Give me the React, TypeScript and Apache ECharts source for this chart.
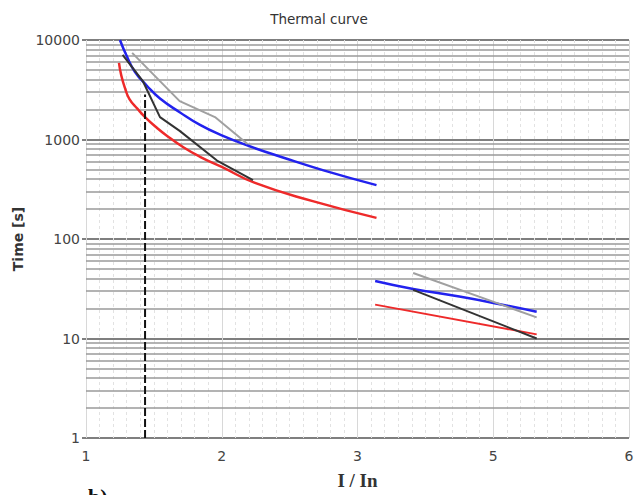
import React, { useEffect, useRef } from "react";
import * as echarts from "echarts";

// Axis tick labels (x axis shows 1,2,3,5,6 at equal spacing)
const xTickValues = [1, 2, 3, 4, 5];
const xTickLabels = ["1", "2", "3", "5", "6"];
const yMinorGrid = [2, 3, 4, 5, 6, 7, 8, 9, 20, 30, 40, 50, 60, 70, 80, 90, 200, 300, 400, 500, 600, 700, 800, 900, 2000, 3000, 4000, 5000, 6000, 7000, 8000, 9000];

// Left group (low overload)
const blueX = [1.25, 1.3, 1.36, 1.45, 1.545, 1.69, 1.84, 2.0, 2.2, 2.45, 2.75, 3.14];
const blueY = [10000, 6900, 4800, 3450, 2580, 1880, 1400, 1100, 860, 660, 490, 348];
const redX = [1.243, 1.26, 1.29, 1.32, 1.38, 1.435, 1.52, 1.6, 1.72, 1.84, 2.0, 2.245, 2.67, 3.14];
const redY = [5900, 4400, 3200, 2550, 2030, 1680, 1320, 1080, 830, 670, 530, 366, 240, 163];
const blackX = [1.27, 1.42, 1.545, 1.69, 1.965, 2.23];
const blackY = [7100, 3830, 1680, 1220, 615, 390];
const grayX = [1.34, 1.69, 1.95, 2.19];
const grayY = [7430, 2430, 1680, 900];

// Right group
const blueRX = [3.13, 3.41, 3.75, 4.03, 4.32];
const blueRY = [37.9, 31.5, 26.4, 22.4, 18.6];
const redRX = [3.13, 4.32];
const redRY = [21.9, 11.0];
const grayRX = [3.41, 4.32];
const grayRY = [45.5, 16.3];
const blackRX = [3.41, 4.32];
const blackRY = [30.8, 10.0];

// Dashed marker
const dashX = [1.435, 1.435];
const dashY = [1, 2840];

const pairs = (xs: number[], ys: number[]) => xs.map((x, i) => [x, ys[i]]);

const FONT = "DejaVu Sans";

export default function App() {
  const ref = useRef<HTMLDivElement>(null);
  useEffect(() => {
    if (!ref.current) return;
    const chart = echarts.init(ref.current, null, { renderer: "svg" });
    const line = (name: string, xs: number[], ys: number[], color: string, smooth: boolean | number, width = 2.5) => ({
      name,
      type: "line",
      data: pairs(xs, ys),
      showSymbol: false,
      smooth,
      z: 5,
      lineStyle: { color, width },
    });
    chart.setOption({
      animation: false,
      title: {
        text: "Thermal curve",
        left: "center",
        top: 7,
        textStyle: { fontFamily: FONT, fontSize: 13.5, fontWeight: "normal", color: "#333" },
      },
      grid: { left: 86, right: 9, top: 40, bottom: 52 },
      xAxis: {
        type: "value",
        min: 1,
        max: 5,
        interval: 1,
        name: "I / In",
        nameLocation: "middle",
        nameGap: 33,
        nameTextStyle: { fontFamily: "Liberation Serif", fontSize: 19, fontWeight: "bold", color: "#333" },
        axisLine: { show: false },
        axisTick: { show: false },
        axisLabel: {
          fontFamily: FONT,
          fontSize: 14,
          color: "#444",
          margin: 11,
          formatter: (v: number) => {
            const i = xTickValues.indexOf(v);
            return i >= 0 ? xTickLabels[i] : "";
          },
        },
        splitLine: { show: true, lineStyle: { color: "#d8d8d8", width: 1 } },
        minorTick: { show: false, splitNumber: 10 },
        minorSplitLine: { show: true, lineStyle: { color: "#e2e2e2", width: 1, type: [3, 3] } },
      },
      yAxis: {
        type: "log",
        logBase: 10,
        min: 1,
        max: 10000,
        name: "Time [s]",
        nameLocation: "middle",
        nameGap: 49,
        nameTextStyle: { fontFamily: FONT, fontSize: 14, fontWeight: "bold", color: "#333" },
        axisLine: { show: false },
        axisTick: { show: true, length: 4, lineStyle: { color: "#555", width: 1.5 } },
        axisLabel: { fontFamily: FONT, fontSize: 14, color: "#444", margin: 6, formatter: (v: number) => String(v) },
        splitLine: { show: true, lineStyle: { color: "#555", width: 1.5 } },
      },
      graphic: [
        {
          type: "text",
          left: 88,
          top: 485,
          style: { text: "b)", font: "bold 22px 'Liberation Serif'", fill: "#111" },
        },
      ],
      series: [
        {
          name: "minorGrid",
          type: "line",
          data: [],
          silent: true,
          z: 1,
          markLine: {
            silent: true,
            symbol: ["none", "none"],
            label: { show: false },
            lineStyle: { color: "#9a9a9a", width: 1.5, type: "solid" },
            data: yMinorGrid.map((v) => ({ yAxis: v })),
          },
        },
        line("Red", redX, redY, "#ee2a2a", 0.5),
        line("Blue", blueX, blueY, "#2222ee", 0.5),
        line("Black", blackX, blackY, "#333333", false, 2),
        line("Gray", grayX, grayY, "#a0a0a0", false, 2),
        line("Red right", redRX, redRY, "#ee2a2a", false, 2),
        line("Blue right", blueRX, blueRY, "#2222ee", 0.5),
        line("Gray right", grayRX, grayRY, "#a0a0a0", false, 2),
        line("Black right", blackRX, blackRY, "#333333", false, 2),
        {
          name: "Marker",
          type: "line",
          data: pairs(dashX, dashY),
          showSymbol: false,
          z: 6,
          lineStyle: { color: "#111", width: 2, type: [8, 3] },
        },
      ],
    });
    return () => chart.dispose();
  }, []);
  return <div ref={ref} style={{ width: 638, height: 495, position: "absolute", left: 0, top: 0 }} />;
}
